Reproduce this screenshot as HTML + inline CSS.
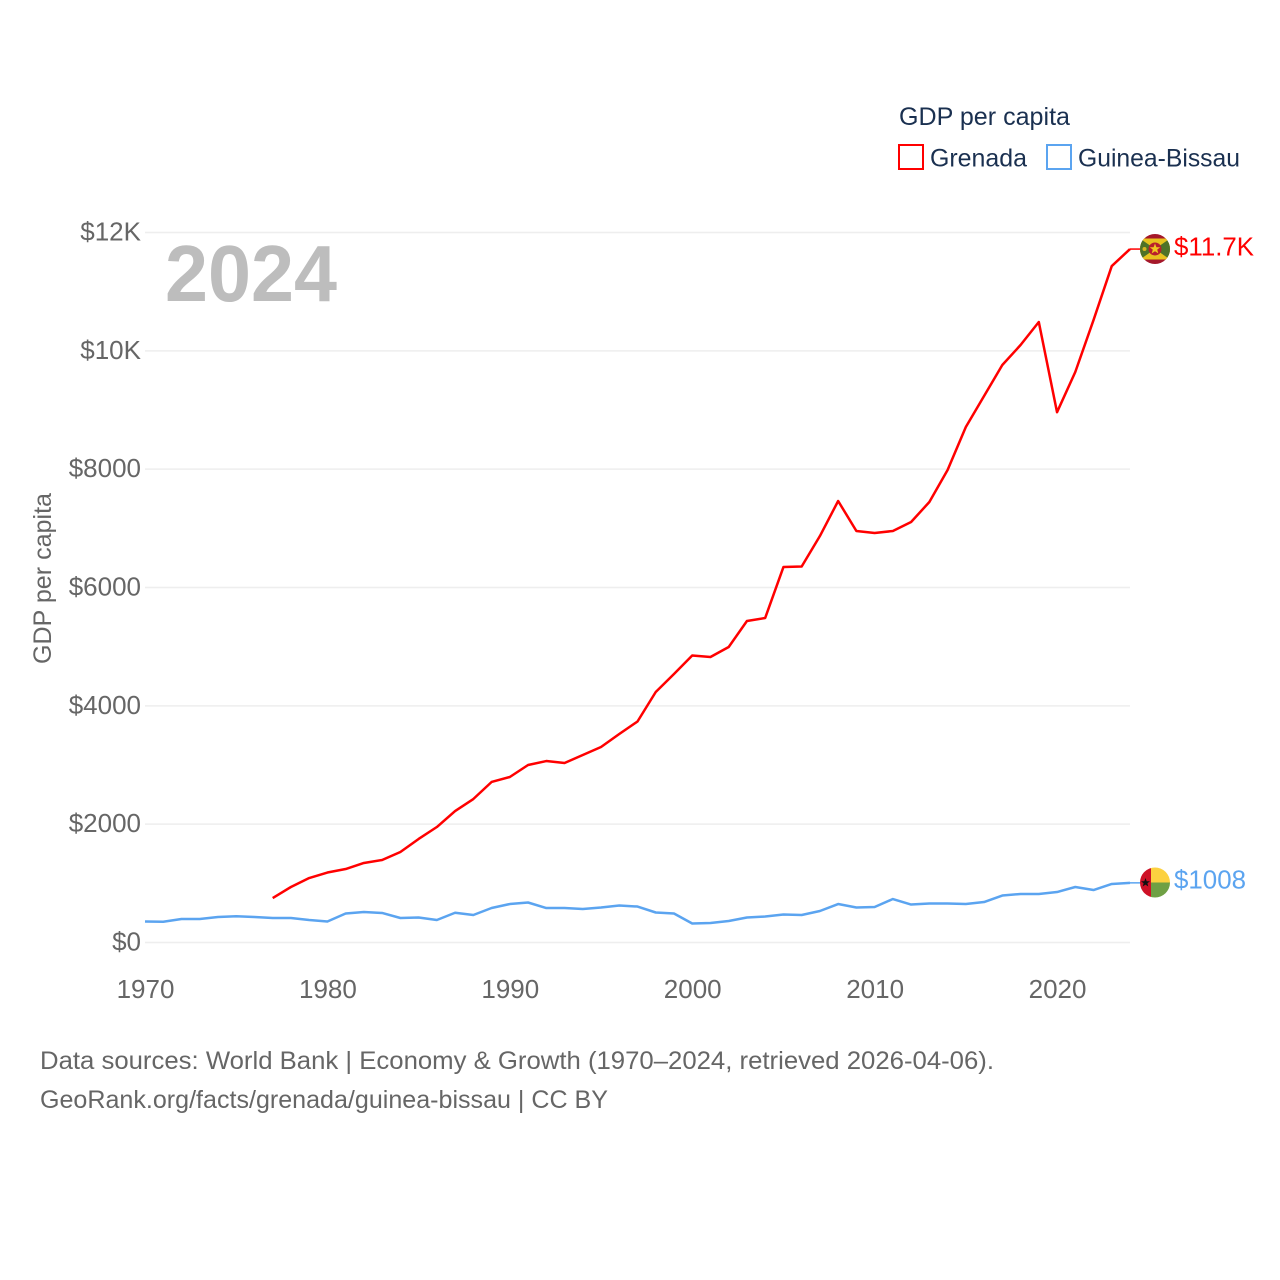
<!DOCTYPE html>
<html lang="en">
<head>
<meta charset="utf-8">
<title>GDP per capita: Grenada and Guinea-Bissau</title>
<style>
html,body{margin:0;padding:0;background:#fff;}
svg{display:block;}
text{font-family:"Liberation Sans",sans-serif;}
</style>
</head>
<body>
<svg id="chart" xmlns="http://www.w3.org/2000/svg" width="1280" height="1280" viewBox="0 0 1280 1280">
  <rect width="1280" height="1280" fill="#ffffff"/>
  <g id="grid"></g>
  <g id="yticks"></g>
  <g id="xticks"></g>
  <text x="1" y="0" transform="translate(51,579.5) rotate(-90)" text-anchor="middle" font-size="25" fill="#666666" textLength="171" lengthAdjust="spacingAndGlyphs">GDP per capita</text>
  <text x="165" y="301" font-size="80" font-weight="700" fill="#bdbdbd" textLength="172" lengthAdjust="spacingAndGlyphs">2024</text>
  <g id="series"></g>

  <g transform="translate(1155,249)">
    <clipPath id="grClip"><circle r="15"/></clipPath>
    <g clip-path="url(#grClip)">
      <rect x="-15" y="-15" width="30" height="30" fill="#a5182a"/>
      <rect x="-15" y="-10.5" width="30" height="21" fill="#e8c21e"/>
      <path d="M-15 -10.5L0 0L-15 10.5Z M15 -10.5L0 0L15 10.5Z" fill="#4f7228"/>
      <circle r="6.5" fill="#b8202c"/>
      <path d="M0 -5.5L1.4 -1.8L5.2 -1.8L2.2 .6L3.3 4.4L0 2.2L-3.3 4.4L-2.2 .6L-5.2 -1.8L-1.4 -1.8Z" fill="#f0c820"/>
      <circle cx="-10.5" cy="0" r="2" fill="#d8b420"/>
    </g>
  </g>
  <g transform="translate(1155,882.5)">
    <clipPath id="gbClip"><circle r="15"/></clipPath>
    <g clip-path="url(#gbClip)">
      <rect x="-15" y="-15" width="11" height="30" fill="#ce1126"/>
      <rect x="-4" y="-15" width="19" height="15" fill="#fcd140"/>
      <rect x="-4" y="0" width="19" height="15" fill="#6fa044"/>
      <path d="M-9.5 -4.5L-8.3 -1.3L-5 -1.3L-7.6 .8L-6.7 4L-9.5 2.1L-12.3 4L-11.4 .8L-14 -1.3L-10.7 -1.3Z" fill="#111111"/>
    </g>
  </g>

  <text x="1174" y="255.5" font-size="26" fill="#ff0000" textLength="80" lengthAdjust="spacingAndGlyphs">$11.7K</text>
  <text x="1174" y="888.5" font-size="26" fill="#5ba4f0" textLength="72" lengthAdjust="spacingAndGlyphs">$1008</text>

  <text x="899" y="125" font-size="25" fill="#1a3050" textLength="171" lengthAdjust="spacingAndGlyphs">GDP per capita</text>
  <g>
    <rect x="899" y="145" width="24" height="24" fill="#ffffff" stroke="#ff0000" stroke-width="2"/>
    <text x="930" y="166.5" font-size="25" fill="#1a3050" textLength="97" lengthAdjust="spacingAndGlyphs">Grenada</text>
  </g>
  <g>
    <rect x="1047" y="145" width="24" height="24" fill="#ffffff" stroke="#5ba4f0" stroke-width="2"/>
    <text x="1078" y="166.5" font-size="25" fill="#1a3050" textLength="162" lengthAdjust="spacingAndGlyphs">Guinea-Bissau</text>
  </g>

  <text x="40" y="1069" font-size="25" fill="#666666" textLength="954" lengthAdjust="spacingAndGlyphs">Data sources: World Bank | Economy &amp; Growth (1970–2024, retrieved 2026-04-06).</text>
  <text x="40" y="1108" font-size="25" fill="#666666" textLength="568" lengthAdjust="spacingAndGlyphs">GeoRank.org/facts/grenada/guinea-bissau | CC BY</text>
</svg>
<script>
const years = [1970,1971,1972,1973,1974,1975,1976,1977,1978,1979,1980,1981,1982,1983,1984,1985,1986,1987,1988,1989,1990,1991,1992,1993,1994,1995,1996,1997,1998,1999,2000,2001,2002,2003,2004,2005,2006,2007,2008,2009,2010,2011,2012,2013,2014,2015,2016,2017,2018,2019,2020,2021,2022,2023,2024];
const grenadaValues = [null,null,null,null,null,null,null,752,938,1090,1183,1242,1344,1394,1530,1750,1952,2222,2425,2713,2797,3000,3067,3034,3169,3304,3524,3735,4234,4538,4850,4825,4994,5434,5485,6346,6355,6870,7462,6955,6921,6955,7107,7445,7985,8712,9236,9760,10098,10487,8963,9642,10520,11433,11720];
const guineaBissauValues = [355,350,397,397,431,443,431,414,414,380,355,490,515,499,414,422,380,503,465,583,650,676,583,583,566,591,625,608,507,490,321,330,363,422,439,473,465,532,650,591,600,735,642,659,659,650,684,794,820,820,853,938,887,989,1008];
const yTickValues = [0,2000,4000,6000,8000,10000,12000];
const yTickLabels = ["$0","$2000","$4000","$6000","$8000","$10K","$12K"];
const xTickValues = [1970,1980,1990,2000,2010,2020];

const NS = "http://www.w3.org/2000/svg";
function xScale(year){ return 145 + (year - 1970) * (1130 - 145) / (2024 - 1970); }
function yScale(value){ return 942.5 - value * (942.5 - 232.5) / 12000; }

const gridGroup = document.getElementById("grid");
const yTickGroup = document.getElementById("yticks");
const xTickGroup = document.getElementById("xticks");
const seriesGroup = document.getElementById("series");

yTickValues.forEach(function(v, i){
  const line = document.createElementNS(NS, "line");
  line.setAttribute("x1", 145);
  line.setAttribute("x2", 1130);
  line.setAttribute("y1", yScale(v));
  line.setAttribute("y2", yScale(v));
  line.setAttribute("stroke", "#eeeeee");
  line.setAttribute("stroke-width", 1.5);
  
  
  gridGroup.appendChild(line);

  const label = document.createElementNS(NS, "text");
  label.setAttribute("x", 141);
  label.setAttribute("y", yScale(v) + 8);
  label.setAttribute("text-anchor", "end");
  label.setAttribute("font-size", 26);
  label.setAttribute("fill", "#666666");
  label.textContent = yTickLabels[i];
  
  
  yTickGroup.appendChild(label);
});

xTickValues.forEach(function(y){
  const label = document.createElementNS(NS, "text");
  label.setAttribute("x", xScale(y) + 0.5);
  label.setAttribute("y", 998);
  label.setAttribute("text-anchor", "middle");
  label.setAttribute("font-size", 26);
  label.setAttribute("fill", "#666666");
  label.textContent = String(y);
  
  
  xTickGroup.appendChild(label);
});

function pathFor(values){
  let d = "";
  let started = false;
  values.forEach(function(v, i){
    if (v === null) return;
    d += (started ? "L" : "M") + xScale(years[i]).toFixed(2) + " " + yScale(v).toFixed(2);
    started = true;
  });
  return d;
}
function lastValue(values){ return values[values.length - 1]; }

const grenadaLine = document.createElementNS(NS, "path");
grenadaLine.setAttribute("d", pathFor(grenadaValues));
grenadaLine.setAttribute("fill", "none");
grenadaLine.setAttribute("stroke", "#ff0000");
grenadaLine.setAttribute("stroke-width", 2.5);
grenadaLine.setAttribute("stroke-linejoin", "round");


seriesGroup.appendChild(grenadaLine);

const guineaLine = document.createElementNS(NS, "path");
guineaLine.setAttribute("d", pathFor(guineaBissauValues));
guineaLine.setAttribute("fill", "none");
guineaLine.setAttribute("stroke", "#5ba4f0");
guineaLine.setAttribute("stroke-width", 2.5);
guineaLine.setAttribute("stroke-linejoin", "round");


seriesGroup.appendChild(guineaLine);

const grenadaConnector = document.createElementNS(NS, "line");
grenadaConnector.setAttribute("x1", xScale(2024));
grenadaConnector.setAttribute("x2", 1141);
grenadaConnector.setAttribute("y1", yScale(lastValue(grenadaValues)));
grenadaConnector.setAttribute("y2", yScale(lastValue(grenadaValues)));
grenadaConnector.setAttribute("stroke", "#ff0000");
grenadaConnector.setAttribute("stroke-width", 1.5);


seriesGroup.appendChild(grenadaConnector);

const guineaConnector = document.createElementNS(NS, "line");
guineaConnector.setAttribute("x1", xScale(2024));
guineaConnector.setAttribute("x2", 1141);
guineaConnector.setAttribute("y1", yScale(lastValue(guineaBissauValues)));
guineaConnector.setAttribute("y2", yScale(lastValue(guineaBissauValues)));
guineaConnector.setAttribute("stroke", "#5ba4f0");
guineaConnector.setAttribute("stroke-width", 1.5);


seriesGroup.appendChild(guineaConnector);
</script>
</body>
</html>
